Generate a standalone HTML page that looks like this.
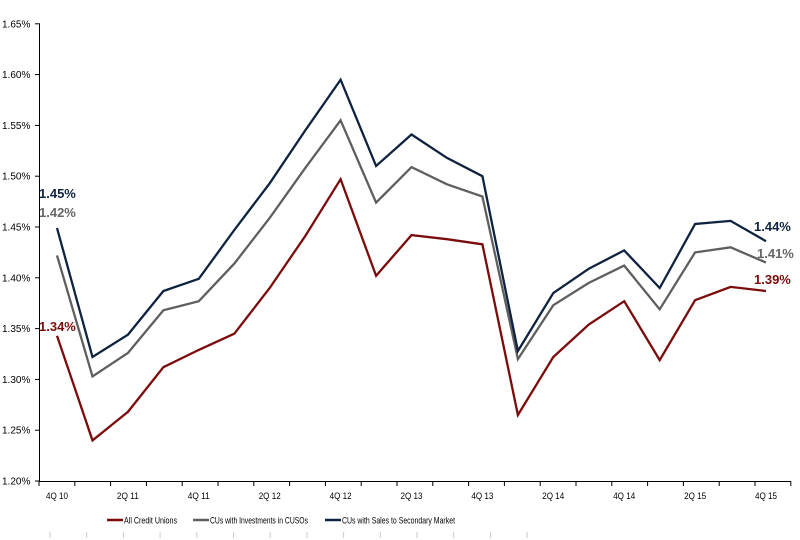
<!DOCTYPE html>
<html><head><meta charset="utf-8"><style>
html,body{margin:0;padding:0;background:#fff;}
svg{display:block;font-family:"Liberation Sans",Arial,sans-serif;}
</style></head><body>
<svg id="c" width="800" height="540" viewBox="0 0 800 540" xmlns="http://www.w3.org/2000/svg"></svg>
<script>
const s=document.getElementById('c');let h='';
const Y=v=>481-(v-1.20)*1016;
const X=i=>57+35.45*i;
h+='<line x1="39.5" y1="24" x2="39.5" y2="481" stroke="#000" stroke-width="1"/>';
for(let k=0;k<=9;k++){const v=1.20+k*0.05,y=Y(v);
h+=`<line x1="35" y1="${y}" x2="40" y2="${y}" stroke="#000"/>`;
h+=`<text x="2" y="${y+3.5}" font-size="10" fill="#000">${v.toFixed(2)}%</text>`;}
h+='<line x1="39" y1="481.5" x2="791" y2="481.5" stroke="#000"/>';
for(let i=0;i<=21;i++){const x=39+i*35.8;h+=`<line x1="${x}" y1="481" x2="${x}" y2="486" stroke="#000"/>`;}
const labs=['4Q 10','2Q 11','4Q 11','2Q 12','4Q 12','2Q 13','4Q 13','2Q 14','4Q 14','2Q 15','4Q 15'];
labs.forEach((l,j)=>{h+=`<text x="${X(2*j)-11}" y="499" font-size="9.5" textLength="22" lengthAdjust="spacingAndGlyphs">${l}</text>`;});
for(let i=0;i<14;i++){h+=`<line x1="${50+i*36.7}" y1="532" x2="${50+i*36.7}" y2="538" stroke="#ccc"/>`;}
const R=[1.343,1.240,1.268,1.312,1.329,1.345,1.390,1.441,1.497,1.402,1.442,1.438,1.433,1.265,1.322,1.354,1.377,1.319,1.378,1.391,1.387];
const G=[1.422,1.303,1.326,1.368,1.377,1.414,1.459,1.508,1.555,1.474,1.509,1.492,1.480,1.320,1.373,1.395,1.412,1.369,1.425,1.430,1.415];
const N=[1.449,1.322,1.344,1.387,1.399,1.447,1.493,1.545,1.595,1.510,1.541,1.518,1.500,1.328,1.385,1.409,1.427,1.390,1.453,1.456,1.436];
const line=(d,c)=>`<polyline fill="none" stroke="${c}" stroke-width="2.3" stroke-linejoin="miter" points="${d.map((v,i)=>X(i).toFixed(1)+','+Y(v).toFixed(1)).join(' ')}"/>`;
h+=line(R,'#7b0c0c')+line(G,'#5f5f5f')+line(N,'#0f2340');
h+='<text x="39" y="198" font-size="13" font-weight="bold" fill="#0f2340">1.45%</text>';
h+='<text x="39" y="217" font-size="13" font-weight="bold" fill="#666">1.42%</text>';
h+='<text x="39" y="331" font-size="13" font-weight="bold" fill="#7b0c0c">1.34%</text>';
h+='<text x="754" y="231" font-size="13" font-weight="bold" fill="#0f2340">1.44%</text>';
h+='<text x="757" y="258" font-size="13" font-weight="bold" fill="#666">1.41%</text>';
h+='<text x="754" y="284" font-size="13" font-weight="bold" fill="#7b0c0c">1.39%</text>';
const leg=[[107,'#7b0c0c','All Credit Unions',53],[193,'#5f5f5f','CUs with Investments in CUSOs',98],[325,'#0f2340','CUs with Sales to Secondary Market',113]];
leg.forEach(([x,c,t,w])=>{h+=`<line x1="${x}" y1="520" x2="${x+16}" y2="520" stroke="${c}" stroke-width="2.5"/><text x="${x+17}" y="523.5" font-size="9.5" textLength="${w}" lengthAdjust="spacingAndGlyphs">${t}</text>`;});
s.innerHTML=h;
</script>
</body></html>
